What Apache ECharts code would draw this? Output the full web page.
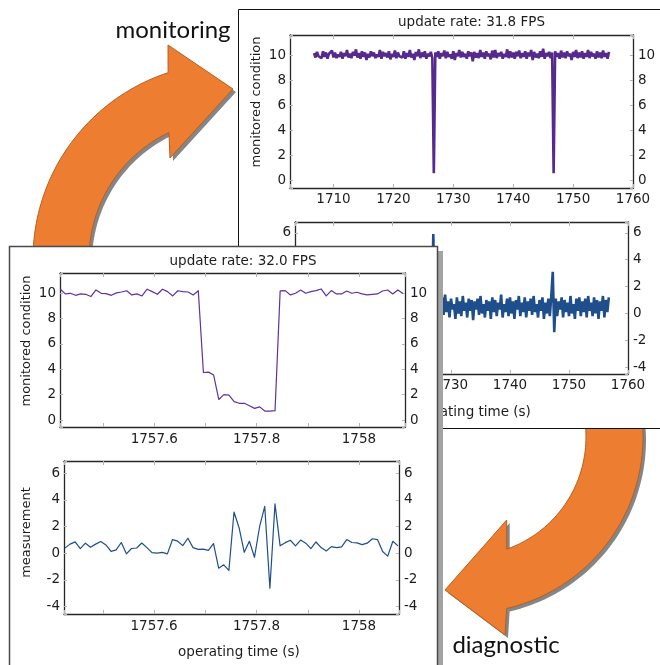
<!DOCTYPE html>
<html><head><meta charset="utf-8">
<script src="https://cdn.jsdelivr.net/npm/echarts@6/dist/echarts.min.js"></script>
<style>html,body{margin:0;padding:0;background:#fff}#c{width:660px;height:665px}</style>
</head><body><div id="c"></div>
<script>
// ---------- DATA ----------
// overview (back panel), monitored condition, sampled every 0.25 s
const overviewCondStart = 1706.75, overviewCondStep = 0.25;
const overviewCondition = [
10.15,9.8,10.25,9.9,10.05,9.75,10.3,9.85,10.2,9.7,10.1,9.95,10.35,9.8,10.2,9.75,10.05,9.85,10.25,9.7,
10.15,9.9,10.4,9.8,10.1,9.75,10.25,9.95,10.45,9.8,10.15,9.7,10.3,9.85,10.2,9.6,10.1,9.8,10.3,9.9,
10.2,9.75,10.05,9.85,10.4,9.7,10.25,9.9,10.15,9.8,10.3,9.65,10.1,9.85,10.35,9.75,10.2,9.9,10.05,9.8,
10.3,9.7,10.15,9.85,10.4,9.8,10.1,9.6,10.25,9.9,10.45,9.75,10.2,9.85,10.3,9.7,10.1,9.9,10.25,9.75,
0.55,10.2,9.85,10.3,9.7,10.15,9.9,10.35,9.75,10.25,9.85,10.05,9.7,10.3,9.6,10.15,9.9,10.4,9.8,10.25,
9.85,10.1,9.7,10.3,9.9,10.2,9.5,10.25,9.8,10.15,9.75,10.4,9.85,10.2,9.7,10.3,9.9,10.1,9.65,10.35,
9.8,10.4,9.75,10.15,9.9,10.25,9.7,10.1,9.85,10.45,9.75,10.3,9.8,10.2,9.7,10.25,9.9,10.35,9.75,10.15,
9.85,10.3,9.7,10.2,9.9,10.4,9.6,10.25,9.8,10.1,9.75,10.3,9.85,10.5,9.7,10.15,9.9,10.25,9.75,10.2,
0.55,10.3,9.85,10.15,9.7,10.35,9.8,10.2,9.75,10.3,9.9,10.1,9.6,10.25,9.85,10.4,9.75,10.2,9.8,10.3,
9.7,10.15,9.85,10.4,9.75,10.25,9.9,10.1,9.7,10.3,9.8,10.2,9.75,10.35,9.85,10.15,9.7,10.25
];
// overview (back panel), measurement
const overviewMeasStart = 1707.5, overviewMeasStep = 0.25;
const overviewMeasurement = [
0.9,-0.2,1.1,0.1,0.7,-0.3,1.2,0.3,0.9,-0.1,1.0,0.2,1.3,-0.2,0.8,0.4,1.1,-0.3,0.7,0.1,
1.2,-0.1,0.8,0.3,1.0,-0.4,0.9,0.2,1.2,-0.2,0.7,0.0,1.1,-0.3,0.9,0.3,1.3,-0.1,0.8,0.2,
1.0,-0.3,0.9,0.4,1.2,-0.1,0.7,0.1,1.1,-0.4,0.9,0.2,1.2,-0.2,0.8,0.3,1.0,-0.3,0.7,0.0,
1.1,-0.2,0.9,0.3,1.0,-0.3,1.3,0.1,0.8,-0.1,1.1,0.2,0.7,-0.3,1.2,0.0,0.9,-0.2,5.9,0.1,
1.0,-0.3,0.8,0.2,1.2,-0.1,1.4,0.1,0.9,-0.3,1.1,0.3,0.7,-0.4,1.2,0.0,0.9,-0.2,1.3,0.2,
0.8,-0.3,1.1,0.2,1.0,-0.5,0.9,0.3,1.1,-0.1,1.3,0.0,0.7,-0.3,1.0,0.2,0.9,-0.4,1.2,0.1,
1.0,-0.2,0.8,0.3,1.4,-0.3,0.7,0.1,1.1,-0.2,1.2,0.0,0.9,-0.4,1.0,0.3,1.3,-0.2,0.8,0.1,
1.2,-0.3,0.9,0.2,1.1,-0.1,1.3,0.1,0.7,-0.3,1.0,0.2,1.2,-0.4,0.8,0.0,1.1,-0.2,1.3,3.1,
-1.4,1.1,-0.2,0.9,0.3,1.2,-0.3,1.0,0.1,0.8,-0.2,1.3,0.0,0.7,-0.4,1.1,0.2,1.2,-0.2,0.9,
0.1,1.1,-0.3,1.3,0.2,0.8,-0.2,1.2,0.0,1.0,-0.4,0.9,0.2,1.3,-0.3,1.0,0.1,1.2
];
// detail (front panel), sampled every 0.01 s
const detailCondStart = 1757.416, detailStep = 0.01;
const detailCondition = [
10.34,9.95,10.0,9.84,9.95,9.92,9.74,10.26,10.0,9.97,
9.84,10.03,10.1,10.2,9.87,9.95,9.79,10.32,10.13,9.92,
10.32,10.13,9.79,10.2,10.13,10.1,9.87,10.2,
3.75,3.78,3.55,1.62,2.0,1.97,1.45,1.32,1.32,1.13,0.92,1.04,0.71,0.71,0.74,
10.19,10.21,9.87,10.0,10.26,10.0,10.13,10.21,10.34,9.79,10.21,9.95,9.95,10.18,10.0,10.08,9.95,9.87,9.92,9.95,10.18,10.26,9.95,10.26,9.98
];
const detailMeasStart = 1757.426;
const detailMeasurement = [
0.38,0.68,0.85,0.34,0.75,0.45,0.68,0.88,0.62,0.14,
0.25,0.8,-0.05,0.35,0.39,0.76,0.42,0.04,0.0,0.06,
-0.05,1.02,0.9,0.57,1.12,0.42,0.29,0.3,0.21,0.72,
-1.12,-0.87,-1.29,3.08,1.89,0.07,0.89,-0.3,2.0,3.5,
-2.62,3.69,0.55,0.79,0.97,0.55,0.98,0.75,0.34,0.84,
0.42,0.17,0.49,0.42,0.48,1.02,0.8,0.77,0.64,0.75,
1.08,1.02,0.13,-0.22,0.89,0.55
];
const overviewTitle = 'update rate: 31.8 FPS';
const detailTitle = 'update rate: 32.0 FPS';
const condName = 'monitored condition';
const measName = 'measurement';
const timeName = 'operating time (s)';
const arrowLabels = ['monitoring', 'diagnostic'];

// ---------- HELPERS ----------
function pairs(start, step, arr) {
  return arr.map((v, i) => [Math.round((start + step * i) * 10000) / 10000, v]);
}
const FONT = '"DejaVu Sans", Verdana, sans-serif';
const TXT = '#1c1c1c';
const FRAME = '#262626';
const TICKC = '#b4b4b4';
const PURPLE = '#56298f';
const BLUE = '#1f4e8d';

function near(a, b) { return Math.abs(a - b) < 1e-4; }
const fmtY = v => (near(v / 2, Math.round(v / 2)) ? String(Math.round(v)) : '');
const fmtXOverview = v => (near(v / 10, Math.round(v / 10)) ? String(Math.round(v)) : '');
const fmtXDetail = v => {
  const k = Math.round(v * 5);
  if (!near(v * 5, k)) return '';
  return (k % 5 === 0) ? String(k / 5) : (k / 5).toFixed(1);
};

function xAxes(gi, min, max, fmt, z, margin) {
  const base = {
    type: 'value', gridIndex: gi, min, max, z, splitNumber: 5, scale: true,
    splitLine: { show: false },
    axisLine: { show: true, onZero: false, lineStyle: { color: FRAME, width: 1.3 } },
    axisTick: { show: true, inside: true, length: 4, lineStyle: { color: TICKC, width: 1 } }
  };
  return [
    Object.assign({}, base, { position: 'bottom',
      axisLabel: { show: true, formatter: fmt, color: TXT, fontFamily: FONT, fontSize: 13.5, margin } }),
    Object.assign({}, base, { position: 'top', axisLabel: { show: false } })
  ];
}
function yAxes(gi, min, max, z) {
  const base = {
    type: 'value', gridIndex: gi, min, max, z, splitNumber: 5, scale: true,
    splitLine: { show: false },
    axisLine: { show: true, onZero: false, lineStyle: { color: FRAME, width: 1.3 } },
    axisTick: { show: true, inside: true, length: 3, lineStyle: { color: TICKC, width: 1 } }
  };
  return [
    Object.assign({}, base, { position: 'left',
      axisLabel: { formatter: fmtY, color: TXT, fontFamily: FONT, fontSize: 13.5, margin: 4 } }),
    Object.assign({}, base, { position: 'right',
      axisLabel: { formatter: fmtY, color: TXT, fontFamily: FONT, fontSize: 13.5, margin: 5 } })
  ];
}
function arcPts(cx, cy, r, a0, a1, n) {
  const pts = [];
  for (let i = 0; i <= n; i++) {
    const a = (a0 + (a1 - a0) * i / n) * Math.PI / 180;
    pts.push([cx + r * Math.cos(a), cy + r * Math.sin(a)]);
  }
  return pts;
}
function shift(pts, d) { return pts.map(p => [p[0] + d, p[1] + d]); }

const arrow1 = arcPts(229, 259, 196, 178, 251.9, 48)
  .concat([[168, 45], [233, 89], [170, 158]])
  .concat(arcPts(229, 259, 140, 244.6, 178, 48));
const arrow2 = arcPts(467, 437, 176, -8, 77, 48)
  .concat([[505, 635], [445, 590], [506.7, 520]])
  .concat(arcPts(467, 437, 119, 70.5, -8, 48));

function txt(text, x, y, z, opts) {
  return Object.assign({
    type: 'text', x, y, z, silent: true,
    style: Object.assign({ text, fill: TXT, font: '13.5px ' + FONT, align: 'center', verticalAlign: 'middle' }, (opts && opts.style) || {})
  }, opts && opts.rotation ? { rotation: opts.rotation } : {});
}

// ---------- CHART ----------
const chart = echarts.init(document.getElementById('c'), null, { renderer: 'canvas', width: 660, height: 665 });

const grids = [
  { left: 290, top: 35, width: 343, height: 153 },
  { left: 295, top: 222, width: 333, height: 152 },
  { left: 60, top: 273, width: 345, height: 154 },
  { left: 64, top: 461, width: 335, height: 153 }
];

const xAxis = [].concat(
  xAxes(0, 1702.74, 1760, fmtXOverview, 3, 4),
  xAxes(1, 1703.56, 1760, fmtXOverview, 3, 4),
  xAxes(2, 1757.4157, 1758.09, fmtXDetail, 11, 5),
  xAxes(3, 1757.4242, 1758.078, fmtXDetail, 11, 5)
);
const yAxis = [].concat(
  yAxes(0, -0.64, 11.6, 3),
  yAxes(1, -4.5, 6.8, 3),
  yAxes(2, -0.55, 11.6, 11),
  yAxes(3, -4.55, 6.9, 11)
);

function lineSeries(xi, yi, data, color, width, z, join) {
  return { type: 'line', xAxisIndex: xi, yAxisIndex: yi, data, showSymbol: false, symbol: 'none',
    lineStyle: { color, width, join: join || 'round' }, z, animation: false, silent: true };
}
const series = [
  lineSeries(0, 0, pairs(overviewCondStart, overviewCondStep, overviewCondition), PURPLE, 2.6, 4, 'bevel'),
  lineSeries(2, 2, pairs(overviewMeasStart, overviewMeasStep, overviewMeasurement), BLUE, 2.6, 4, 'bevel'),
  lineSeries(4, 4, pairs(detailCondStart, detailStep, detailCondition), '#5f32a0', 1.2, 12),
  lineSeries(6, 6, pairs(detailMeasStart, detailStep, detailMeasurement), BLUE, 1.2, 12)
];

const ORANGE = '#ED7D31', ORANGE_EDGE = '#B4601F', SHADOW = '#858585';
const graphic = [
  { type: 'polygon', z: 1, silent: true, shape: { points: shift(arrow1, 3) }, style: { fill: SHADOW } },
  { type: 'polygon', z: 1, silent: true, shape: { points: arrow1 }, style: { fill: ORANGE, stroke: ORANGE_EDGE, lineWidth: 1 } },
  { type: 'polygon', z: 1, silent: true, shape: { points: shift(arrow2, 3) }, style: { fill: SHADOW } },
  { type: 'polygon', z: 1, silent: true, shape: { points: arrow2 }, style: { fill: ORANGE, stroke: ORANGE_EDGE, lineWidth: 1 } },
  // back panel
  { type: 'rect', z: 2, silent: true, shape: { x: 238.5, y: 9.5, width: 440, height: 419 }, style: { fill: '#fff', stroke: '#111', lineWidth: 1 } },
  txt(overviewTitle, 471.5, 22.5, 4),
  txt(condName, 257, 102, 4, { rotation: Math.PI / 2, style: { font: '13px ' + FONT } }),
  txt(timeName, 470, 412.5, 4),
  // front panel
  { type: 'rect', z: 9, silent: true, shape: { x: 438, y: 251, width: 5, height: 430 }, style: { fill: '#a3a3a3' } },
  { type: 'rect', z: 10, silent: true, shape: { x: 9.5, y: 246.5, width: 428, height: 440 }, style: { fill: '#fff', stroke: '#4a4a4a', lineWidth: 1.5 } },
  txt(detailTitle, 243, 261, 12),
  txt(condName, 27, 341, 12, { rotation: Math.PI / 2, style: { font: '13px ' + FONT } }),
  txt(measName, 27, 532.5, 12, { rotation: Math.PI / 2, style: { font: '13px ' + FONT } }),
  txt(timeName, 239, 652.5, 12),
  // arrow labels
  txt(arrowLabels[0], 173, 30, 13, { style: { font: '24px Lato, "Open Sans", sans-serif', fill: '#111' } }),
  txt(arrowLabels[1], 506, 645, 13, { style: { font: '24px Lato, "Open Sans", sans-serif', fill: '#111' } })
];

chart.setOption({
  animation: false,
  backgroundColor: '#fff',
  grid: grids,
  xAxis, yAxis, series, graphic
});
</script>
</body></html>
